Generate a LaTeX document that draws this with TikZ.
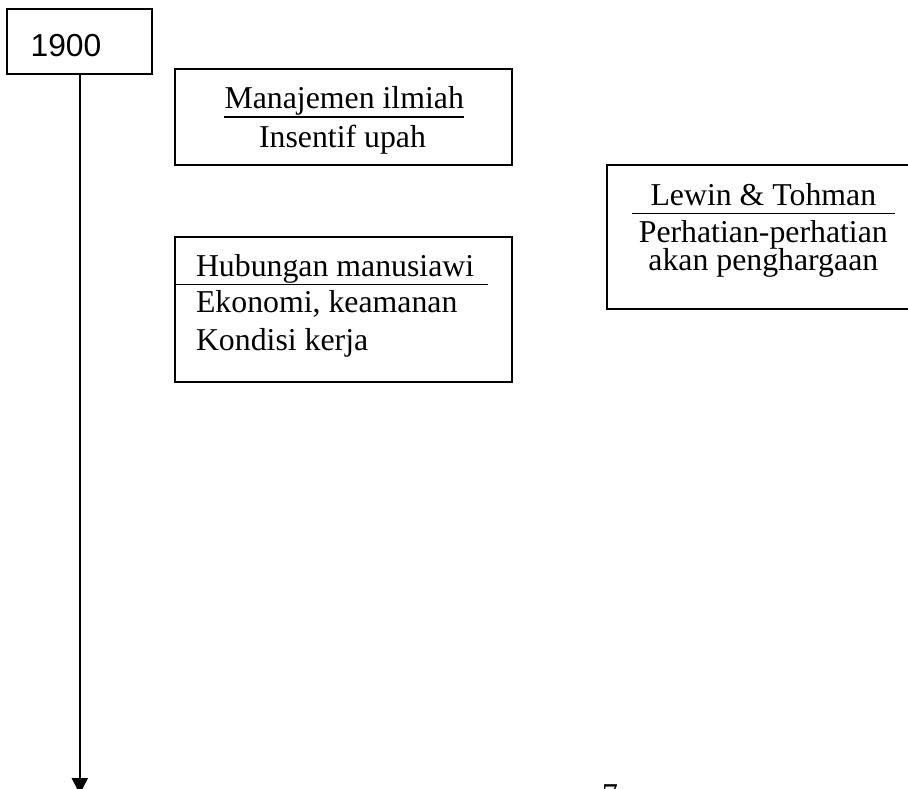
\documentclass[12pt,tikz,border=0pt]{standalone}
\usepackage{fontspec}
\setmainfont{Liberation Serif}
\newfontfamily\yearfont{Liberation Sans}
\usetikzlibrary{arrows.meta}
\begin{document}
\begin{tikzpicture}[x=0.3774pt, y=-0.3774pt,
	box/.style={draw, line width=0.75pt, inner sep=0pt},
	head/.style={inner sep=0pt, text depth=3pt, anchor=base},
	txt/.style={inner sep=0pt, anchor=base},
	rule/.style={line width=0.7pt}]
	\useasboundingbox (0, 0) rectangle (908, 788);
	\node[box, minimum width=54.72pt, minimum height=24.42pt] (0) at (79.8, 41.7) {};
	\node[txt, font=\yearfont] (1) at (66, 56.7) {1900};
	\coordinate (2) at (79.8, 794);
	\node[box, minimum width=127.07pt, minimum height=36.12pt] (3) at (343.4, 117.2) {};
	\node[head] (4) at (344.2, 108.3) {Manajemen ilmiah};
	\node[txt] (5) at (342.5, 147.3) {Insentif upah};
	\node[box, minimum width=127.07pt, minimum height=54.5pt] (6) at (343.4, 309.5) {};
	\node[head, anchor=base west] (7) at (195.5, 276) {Hubungan manusiawi};
	\node[txt, anchor=base west] (8) at (195.5, 312) {Ekonomi, keamanan};
	\node[txt, anchor=base west] (9) at (195.5, 350) {Kondisi kerja};
	\coordinate (10) at (488.3, 0);
	\node[box, minimum width=117.75pt, minimum height=54.46pt] (11) at (763.3, 237.2) {};
	\node[head, inner xsep=6.9pt] (12) at (763.3, 205) {Lewin \& Tohman};
	\node[txt] (13) at (763.3, 242.5) {Perhatian-perhatian};
	\node[txt] (14) at (763.3, 270.5) {akan penghargaan};
	\node[inner sep=0pt, anchor=north west] (15) at (601.5, 784.3) {7};
	\draw[line width=0.75pt, -{Triangle[length=6pt, width=6pt]}] (0.south) to (2);
	\draw[rule] (4.south west) to (4.south east);
	\draw[rule] (6.west |- 7.south) to (7.south -| 10);
	\draw[rule] (12.south west) to (12.south east);
\end{tikzpicture}
\end{document}
